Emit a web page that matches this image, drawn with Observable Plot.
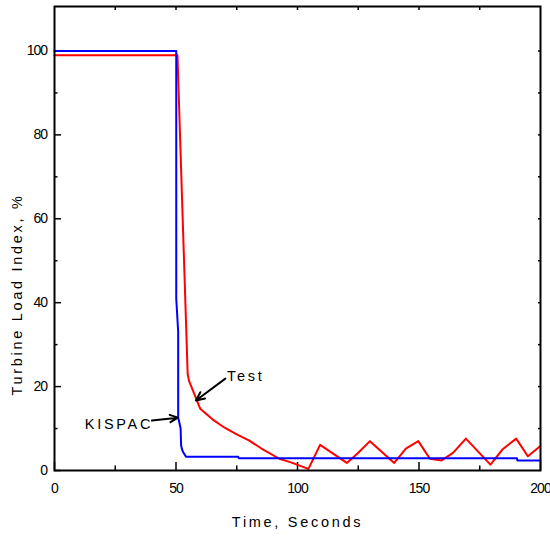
<!DOCTYPE html>
<html>
<head>
<meta charset="utf-8">
<script src="https://cdn.jsdelivr.net/npm/d3@7"></script>
<script src="https://cdn.jsdelivr.net/npm/@observablehq/plot@0.6"></script>
<style>
  body { margin: 0; background: #fff; }
  g[aria-label$="tick label"] text { letter-spacing: -1px; }
  g[aria-label="text"] text { letter-spacing: 2.7px; }
</style>
</head>
<body>
<div id="chart"></div>
<script>
// KISPAC (blue) series
const kispacTime  = [0, 50.1, 50.1, 50.9, 50.9, 51.9, 52.1, 52.4, 52.9, 54.1, 75.6, 75.8, 190.3, 190.5, 200];
const kispacValue = [100, 100, 41, 33, 12.7, 10, 6, 5.2, 4.4, 3.3, 3.3, 2.9, 2.9, 2.4, 2.4];

// Test (red) series
const testTime  = [0, 50.6, 54.8, 55.4, 60, 65, 70, 75, 80, 85, 92.5, 97, 104.5, 109.3, 120.3, 124.8, 129.8, 139.8, 144.6, 149.7, 154.5, 159.3, 164, 169.3, 179.4, 184.3, 190, 194.8, 199.7];
const testValue = [99, 99, 23, 21.3, 14.7, 12.2, 10.2, 8.6, 7.2, 5.3, 2.8, 2.0, 0.4, 6.1, 1.8, 4.1, 7.0, 1.8, 5.2, 7.0, 2.8, 2.4, 4.2, 7.6, 1.4, 5.0, 7.6, 3.4, 5.7];

// Ticks
const xMajorTicks = [0, 50, 100, 150, 200];
const xMinorTicks = [25, 75, 125, 175];
const yMajorTicks = [0, 20, 40, 60, 80, 100];
const yMinorTicks = [10, 30, 50, 70, 90];

// Labels and annotations
const xLabel = "Time, Seconds";
const yLabel = "Turbine Load Index, %";
const annotLabels = ["Test", "KISPAC"];
const annotTextX  = [71, 40.6];
const annotTextY  = [22.5, 11.1];
const arrowX1 = [70.3, 40.1];
const arrowY1 = [21.9, 11.9];
const arrowX2 = [58.2, 50.8];
const arrowY2 = [16.7, 12.6];

const kispac = kispacTime.map((t, i) => ({t, v: kispacValue[i]}));
const test = testTime.map((t, i) => ({t, v: testValue[i]}));
const annots = annotLabels.map((s, i) => ({s, x: annotTextX[i], y: annotTextY[i]}));
const arrows = arrowX1.map((x1, i) => ({x1, y1: arrowY1[i], x2: arrowX2[i], y2: arrowY2[i]}));

const chart = Plot.plot({
  width: 550,
  height: 536,
  marginLeft: 54,
  marginRight: 10,
  marginTop: 6,
  marginBottom: 66,
  style: {fontFamily: "'Liberation Sans', Arial, sans-serif", fontSize: "14px", background: "#fff", color: "#000"},
  x: {domain: [0, 200]},
  y: {domain: [0, 110.6]},
  marks: [
    Plot.axisX(xMajorTicks, {anchor: "bottom", tickSize: -8, tickPadding: 21, label: null, strokeWidth: 1.5}),
    Plot.axisX(xMinorTicks, {anchor: "bottom", tickSize: -4.5, text: null, label: null, strokeWidth: 1.5}),
    Plot.axisX(xMinorTicks.concat(xMajorTicks.slice(1, -1)), {anchor: "top", tickSize: -3, text: null, label: null, strokeWidth: 1.5}),
    Plot.axisY(yMajorTicks, {anchor: "left", tickSize: -7, tickPadding: 14.5, label: null, strokeWidth: 1.5}),
    Plot.axisY(yMinorTicks, {anchor: "left", tickSize: -3.5, text: null, label: null, strokeWidth: 1.5}),
    Plot.axisY(yMinorTicks.concat(yMajorTicks.slice(1)), {anchor: "right", tickSize: -3, text: null, label: null, strokeWidth: 1.5}),
    Plot.line(test, {x: "t", y: "v", stroke: "#ff0000", strokeWidth: 2}),
    Plot.line(kispac, {x: "t", y: "v", stroke: "#0000ff", strokeWidth: 2}),
    Plot.arrow(arrows, {x1: "x1", y1: "y1", x2: "x2", y2: "y2", stroke: "#000", strokeWidth: 2, headLength: 7, headAngle: 50}),
    Plot.text(annots.slice(0, 1), {x: "x", y: "y", text: "s", textAnchor: "start", fontSize: 14.5, fill: "#000"}),
    Plot.text(annots.slice(1), {x: "x", y: "y", text: "s", textAnchor: "end", fontSize: 14.5, fill: "#000"}),
    Plot.text([xLabel], {frameAnchor: "bottom", lineAnchor: "middle", textAnchor: "middle", dy: 52, fontSize: 14.5, fill: "#000"}),
    Plot.text([yLabel], {frameAnchor: "left", rotate: -90, textAnchor: "middle", lineAnchor: "middle", dx: -37, dy: 56, fontSize: 14.5, fill: "#000"}),
    Plot.frame({stroke: "#000", strokeWidth: 2})
  ]
});
document.getElementById("chart").append(chart);
</script>
</body>
</html>
